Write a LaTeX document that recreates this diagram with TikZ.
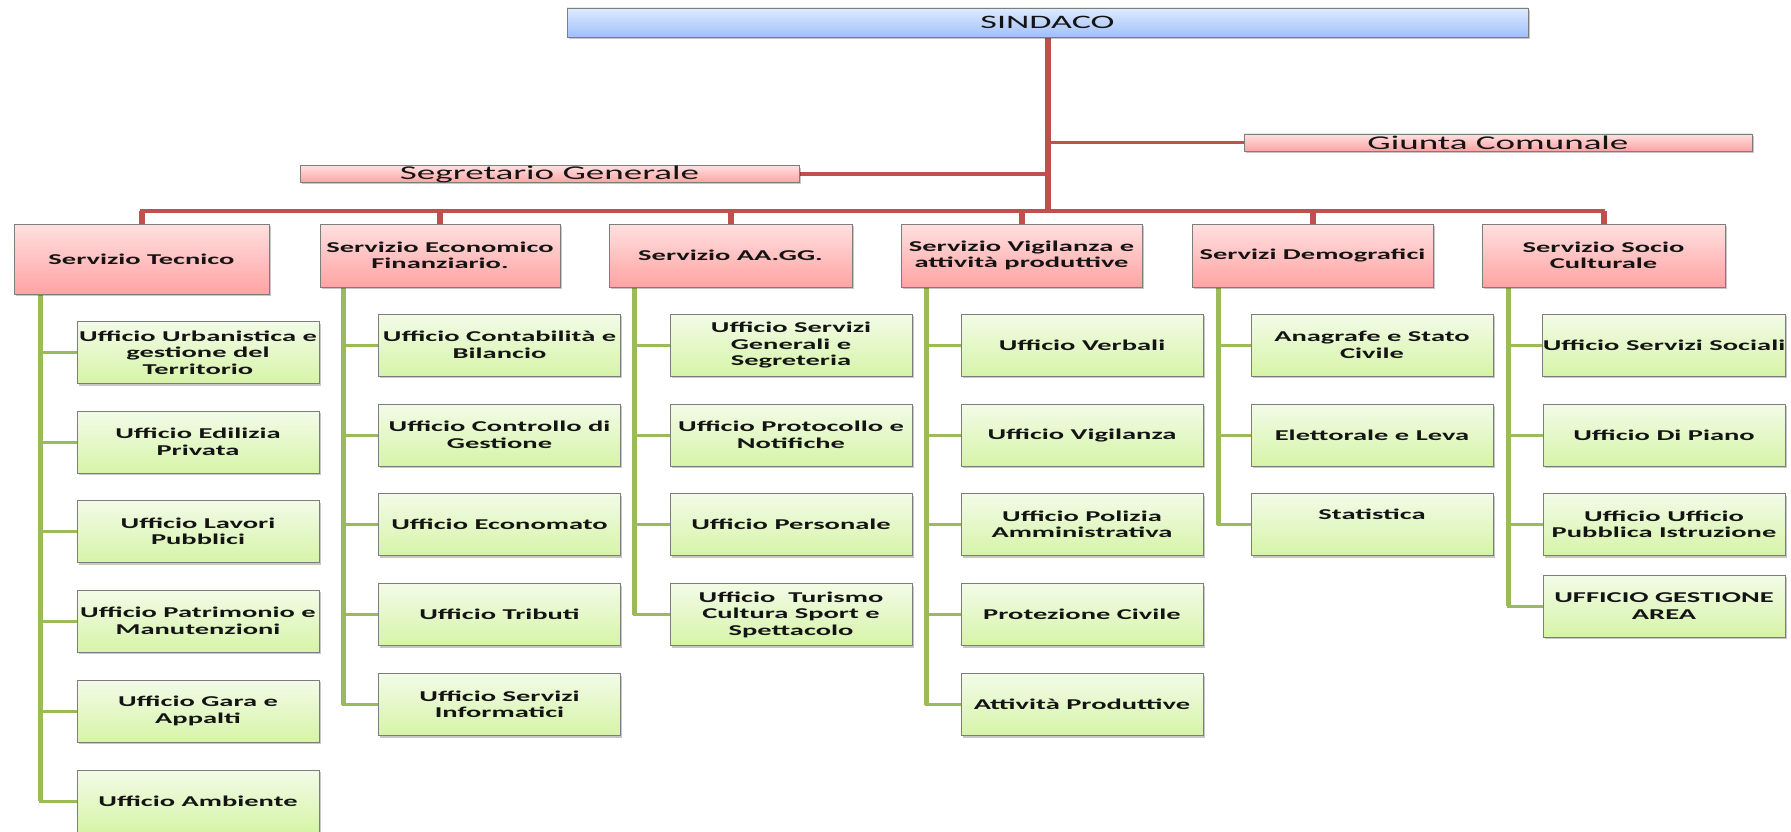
\documentclass[tikz,border=0pt]{standalone}
\usepackage{fontspec}
\newfontfamily\wide{Carlito}[FakeStretch=1.9]
\usetikzlibrary{shadows,backgrounds}
\definecolor{pinkT}{RGB}{255,224,224}
\definecolor{pinkB}{RGB}{255,163,163}
\definecolor{blueT}{RGB}{222,234,255}
\definecolor{blueB}{RGB}{160,192,250}
\definecolor{greenT}{RGB}{243,251,232}
\definecolor{greenB}{RGB}{214,244,168}
\definecolor{edge}{RGB}{125,125,125}
\definecolor{redln}{RGB}{192,80,77}
\definecolor{grnln}{RGB}{155,187,89}
\definecolor{txt}{RGB}{20,20,20}
\tikzset{
  box/.style={draw=edge, line width=0.8pt, inner sep=0pt, outer sep=0pt, align=center, text=txt,
    drop shadow={shadow xshift=1.5pt, shadow yshift=-2pt, fill=black, opacity=0.22}},
  topbox/.style={box, top color=blueT, bottom color=blueB, font=\wide\fontsize{19}{20}\selectfont},
  sidebox/.style={box, top color=pinkT, bottom color=pinkB, font=\wide\fontsize{19.5}{20}\selectfont},
  servbox/.style={box, top color=pinkT, bottom color=pinkB, minimum height=63pt, font=\wide\bfseries\fontsize{15}{16.5}\selectfont},
  offbox/.style={box, top color=greenT, bottom color=greenB, minimum width=242pt, minimum height=62pt, font=\wide\bfseries\fontsize{15}{16.5}\selectfont},
  redv/.style={draw=redln, line width=6pt},
  redh/.style={draw=redln, line width=3.5pt, line cap=rect},
  grnv/.style={draw=grnln, line width=5pt},
  grnh/.style={draw=grnln, line width=3pt, line cap=rect},
}
\begin{document}
\begin{tikzpicture}[x=1pt,y=-1pt]
\useasboundingbox (0,0) rectangle (1791,832);
% top level
\node[topbox, minimum width=961pt, minimum height=29pt] (sind) at (1047.5,22.5) {SINDACO};
\node[sidebox, minimum width=499pt, minimum height=16pt] (segr) at (549.5,174) {Segretario Generale};
\node[sidebox, minimum width=508pt, minimum height=17pt] (giun) at (1498,142.5) {Giunta Comunale};
% services
\node[servbox, minimum width=255pt, minimum height=70pt] (tec) at (141.5,259) {Servizio Tecnico};
\node[servbox, minimum width=240pt] (eco) at (440,255.5) {Servizio Economico\\Finanziario.};
\node[servbox, minimum width=243pt] (aag) at (730.5,255.5) {Servizio AA.GG.};
\node[servbox, minimum width=241pt] (vig) at (1021.5,255.5) {Servizio Vigilanza e\\attività produttive};
\node[servbox, minimum width=241pt] (dem) at (1312.5,255.5) {Servizi Demografici};
\node[servbox, minimum width=243pt] (soc) at (1603.5,255.5) {Servizio Socio\\Culturale};
% Tecnico offices
\node[offbox] (t1) at (198,352.5) {Ufficio Urbanistica e\\gestione del\\Territorio};
\node[offbox] (t2) at (198,442) {Ufficio Edilizia\\Privata};
\node[offbox] (t3) at (198,531.5) {Ufficio Lavori\\Pubblici};
\node[offbox] (t4) at (198,621) {Ufficio Patrimonio e\\Manutenzioni};
\node[offbox] (t5) at (198,711) {Ufficio Gara e\\Appalti};
\node[offbox] (t6) at (198,801) {Ufficio Ambiente};
% Economico offices
\node[offbox] (e1) at (499.5,345) {Ufficio Contabilità e\\Bilancio};
\node[offbox] (e2) at (499.5,435) {Ufficio Controllo di\\Gestione};
\node[offbox] (e3) at (499.5,524.5) {Ufficio Economato};
\node[offbox] (e4) at (499.5,614.5) {Ufficio Tributi};
\node[offbox] (e5) at (499.5,704.5) {Ufficio Servizi\\Informatici};
% AA.GG. offices
\node[offbox] (a1) at (791,345) {Ufficio Servizi\\Generali e\\Segreteria};
\node[offbox] (a2) at (791,435) {Ufficio Protocollo e\\Notifiche};
\node[offbox] (a3) at (791,524.5) {Ufficio Personale};
\node[offbox] (a4) at (791,614.5) {Ufficio\ \ Turismo\\Cultura Sport e\\Spettacolo};
% Vigilanza offices
\node[offbox] (v1) at (1082,345) {Ufficio Verbali};
\node[offbox] (v2) at (1082,435) {Ufficio Vigilanza};
\node[offbox] (v3) at (1082,524.5) {Ufficio Polizia\\Amministrativa};
\node[offbox] (v4) at (1082,614.5) {Protezione Civile};
\node[offbox] (v5) at (1082,704.5) {Attività Produttive};
% Demografici offices
\node[offbox] (d1) at (1372,345) {Anagrafe e Stato\\Civile};
\node[offbox] (d2) at (1372,435) {Elettorale e Leva};
\node[offbox] (d3) at (1372,524.5) {Statistica\\[5pt]\mbox{}};
% Socio offices
\node[offbox] (s1) at (1664,345) {Ufficio Servizi Sociali};
\node[offbox] (s2) at (1664,435) {Ufficio Di Piano};
\node[offbox] (s3) at (1664,524.5) {Ufficio Ufficio\\Pubblica Istruzione};
\node[offbox] (s4) at (1664,606) {UFFICIO GESTIONE\\AREA};
% connector coordinates
\coordinate (bus) at (1049,211);
\coordinate (tecv) at (40,0);
\coordinate (ecov) at (343,0);
\coordinate (aagv) at (634,0);
\coordinate (vigv) at (926,0);
\coordinate (demv) at (1218,0);
\coordinate (socv) at (1508,0);
\begin{scope}[on background layer]
% red
\draw[redv] (sind.south) -- (sind.south |- bus);
\draw[redh] (segr.east) -- (sind.south |- segr.east);
\draw[redh] (sind.south |- giun.west) -- (giun.west);
\draw[redh] (tec.north |- bus) -- (soc.north |- bus);
\foreach \s in {tec,eco,aag,vig,dem,soc}{
  \draw[redv] (\s.north |- bus) -- (\s.north);
}
% green
\draw[grnv] (tecv |- tec.south) -- (tecv |- t6.west);
\foreach \c in {t1,t2,t3,t4,t5,t6}{ \draw[grnh] (tecv |- \c.west) -- (\c.west); }
\draw[grnv] (ecov |- eco.south) -- (ecov |- e5.west);
\foreach \c in {e1,e2,e3,e4,e5}{ \draw[grnh] (ecov |- \c.west) -- (\c.west); }
\draw[grnv] (aagv |- aag.south) -- (aagv |- a4.west);
\foreach \c in {a1,a2,a3,a4}{ \draw[grnh] (aagv |- \c.west) -- (\c.west); }
\draw[grnv] (vigv |- vig.south) -- (vigv |- v5.west);
\foreach \c in {v1,v2,v3,v4,v5}{ \draw[grnh] (vigv |- \c.west) -- (\c.west); }
\draw[grnv] (demv |- dem.south) -- (demv |- d3.west);
\foreach \c in {d1,d2,d3}{ \draw[grnh] (demv |- \c.west) -- (\c.west); }
\draw[grnv] (socv |- soc.south) -- (socv |- s4.west);
\foreach \c in {s1,s2,s3,s4}{ \draw[grnh] (socv |- \c.west) -- (\c.west); }
\end{scope}
\end{tikzpicture}
\end{document}
